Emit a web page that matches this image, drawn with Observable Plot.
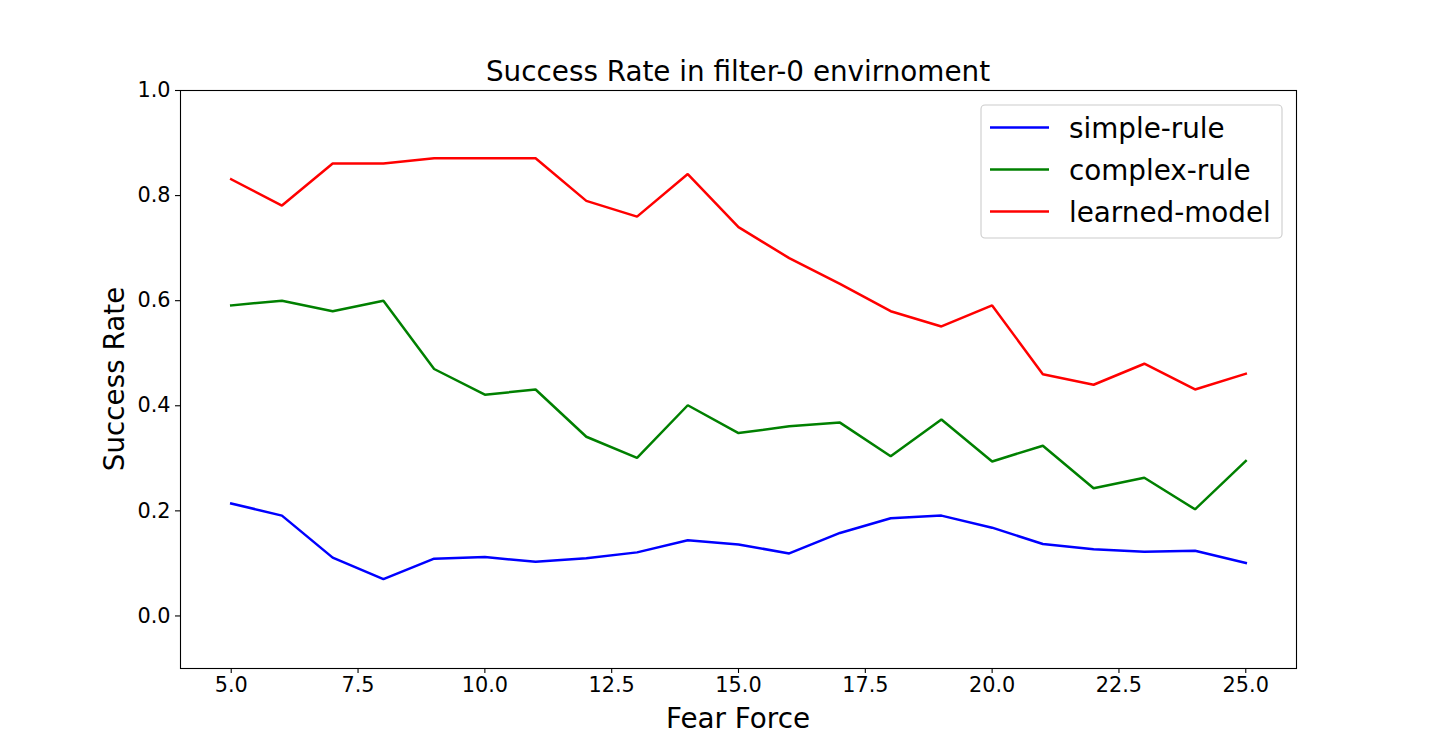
<!DOCTYPE html>
<html>
<head>
<meta charset="utf-8">
<script src="https://cdn.jsdelivr.net/npm/d3@7"></script>
<script src="https://cdn.jsdelivr.net/npm/@observablehq/plot@0.6"></script>
<style>
  html, body { margin: 0; padding: 0; background: #fff; }
  #chart svg { display: block; }
</style>
</head>
<body>
<div id="chart"></div>
<script>
// ---- data ----
const fearForce = [5, 6, 7, 8, 9, 10, 11, 12, 13, 14, 15, 16, 17, 18, 19, 20, 21, 22, 23, 24, 25];
const simpleRule = [0.214, 0.191, 0.111, 0.070, 0.109, 0.112, 0.103, 0.110, 0.121, 0.144, 0.136, 0.119, 0.158, 0.186, 0.191, 0.168, 0.137, 0.127, 0.122, 0.124, 0.101];
const complexRule = [0.591, 0.600, 0.580, 0.600, 0.470, 0.421, 0.431, 0.341, 0.301, 0.401, 0.348, 0.361, 0.368, 0.304, 0.374, 0.294, 0.324, 0.243, 0.263, 0.203, 0.295];
const learnedModel = [0.831, 0.781, 0.861, 0.861, 0.871, 0.871, 0.871, 0.790, 0.760, 0.841, 0.740, 0.681, 0.632, 0.580, 0.551, 0.591, 0.460, 0.440, 0.480, 0.431, 0.461];
const seriesNames = ["simple-rule", "complex-rule", "learned-model"];
const seriesColors = ["#0000ff", "#008000", "#ff0000"];
const xTicks = [5, 7.5, 10, 12.5, 15, 17.5, 20, 22.5, 25];
const yTicks = [0, 0.2, 0.4, 0.6, 0.8, 1.0];
const titleText = "Success Rate in filter-0 envirnoment";
const xLabel = "Fear Force";
const yLabel = "Success Rate";

const seriesValues = [simpleRule, complexRule, learnedModel];
const rows = [];
seriesNames.forEach((name, i) => {
  fearForce.forEach((f, j) => rows.push({series: name, x: f, y: seriesValues[i][j]}));
});

const W = 1440, H = 751;
const font = "'DejaVu Sans', sans-serif";
const mL = 180, mR = 144, mT = 90, mB = 83;

const plot = Plot.plot({
  width: W,
  height: H,
  marginLeft: mL,
  marginRight: mR,
  marginTop: mT,
  marginBottom: mB,
  style: {fontFamily: font, fontSize: "20.8px", color: "#000", background: "#fff", overflow: "visible"},
  x: {domain: [4, 26]},
  y: {domain: [-0.1, 1.0]},
  color: {domain: seriesNames, range: seriesColors},
  marks: [
    Plot.axisX({ticks: xTicks, tickFormat: d3.format(".1f"), tickSize: 5, tickPadding: 4, label: null, fontSize: "20.8px", strokeWidth: 1.1}),
    Plot.axisY({ticks: yTicks, tickFormat: d3.format(".1f"), tickSize: 5, tickPadding: 5, label: null, fontSize: "20.8px", strokeWidth: 1.1}),
    Plot.line(rows, {x: "x", y: "y", z: "series", stroke: "series", strokeWidth: 2.5, strokeLinejoin: "miter", strokeLinecap: "square"}),
    Plot.frame({stroke: "#000", strokeWidth: 1.1})
  ]
});

document.getElementById("chart").appendChild(plot);

const svg = d3.select(plot);
const plotL = mL, plotR = W - mR, plotT = mT, plotB = H - mB;
const cx = (plotL + plotR) / 2, cy = (plotT + plotB) / 2;

// title
svg.append("text").attr("x", cx).attr("y", 81).attr("text-anchor", "middle")
  .style("font-family", font).style("font-size", "27.8px").attr("fill", "#000").text(titleText);
// x label
svg.append("text").attr("x", cx).attr("y", 728).attr("text-anchor", "middle")
  .style("font-family", font).style("font-size", "27.8px").attr("fill", "#000").text(xLabel);
// y label
svg.append("text").attr("transform", `translate(124,${cy}) rotate(-90)`).attr("text-anchor", "middle")
  .style("font-family", font).style("font-size", "27.8px").attr("fill", "#000").text(yLabel);

// legend
const lg = svg.append("g");
lg.append("rect").attr("x", 981).attr("y", 105).attr("width", 301).attr("height", 133)
  .attr("rx", 4).attr("fill", "#fff").attr("fill-opacity", 0.8).attr("stroke", "#cccccc").attr("stroke-width", 1.1);
const legendYs = [127.5, 169.5, 211.5];
seriesNames.forEach((name, i) => {
  lg.append("line").attr("x1", 990).attr("x2", 1049).attr("y1", legendYs[i]).attr("y2", legendYs[i])
    .attr("stroke", seriesColors[i]).attr("stroke-width", 2.5);
  lg.append("text").attr("x", 1069).attr("y", legendYs[i]).attr("dy", "0.36em").attr("text-anchor", "start")
    .style("font-family", font).style("font-size", "27.8px").attr("fill", "#000").text(name);
});
</script>
</body>
</html>
